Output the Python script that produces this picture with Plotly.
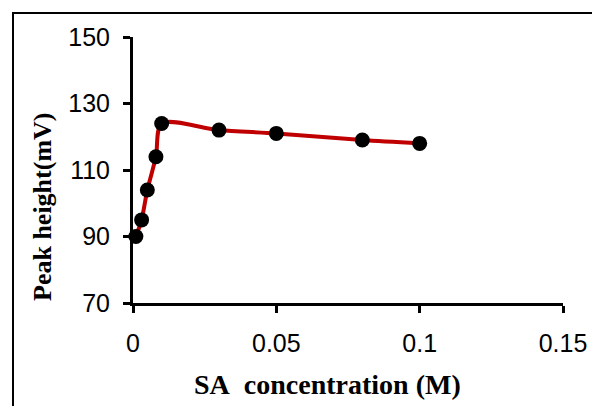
import plotly.graph_objects as go

conc = [0.001, 0.003, 0.005, 0.008, 0.01, 0.03, 0.05, 0.08, 0.1]
peak = [90, 95, 104, 114, 124, 122, 121, 119, 118]

x_ticks = [0, 0.05, 0.1, 0.15]
x_tick_labels = ["0", "0.05", "0.1", "0.15"]
y_ticks = [70, 90, 110, 130, 150]

x_title = "<b>SA\u00a0 concentration (M)</b>"
y_title = "<b>Peak height(mV)</b>"

fig = go.Figure()
fig.add_trace(go.Scatter(
    x=conc, y=peak, mode="lines",
    line=dict(color="#C00000", width=4, shape="spline", smoothing=0.8),
    showlegend=False, hoverinfo="skip", cliponaxis=False,
))
fig.add_trace(go.Scatter(
    x=conc, y=peak, mode="markers",
    marker=dict(color="black", size=15),
    showlegend=False, cliponaxis=False,
))

x_title_font = dict(family="Liberation Serif, Times New Roman", size=28, color="black")
y_title_font = dict(family="Liberation Serif, Times New Roman", size=26, color="black")

fig.update_layout(
    width=592, height=406,
    margin=dict(l=133, r=29, t=37, b=103, autoexpand=False),
    paper_bgcolor="white", plot_bgcolor="white",
    font=dict(family="Liberation Sans, Arial", size=25, color="black"),
    xaxis=dict(
        range=[0, 0.15], tickvals=x_ticks, ticktext=x_tick_labels,
        showline=True, linecolor="black", linewidth=3,
        ticks="outside", ticklen=7, tickwidth=3, tickcolor="black",
        showgrid=False, zeroline=False, ticklabelstandoff=9,
        automargin=False,
    ),
    yaxis=dict(
        range=[70, 150], tickvals=y_ticks,
        showline=True, linecolor="black", linewidth=3,
        ticks="outside", ticklen=7, tickwidth=3, tickcolor="black",
        showgrid=False, zeroline=False, ticklabelstandoff=8,
        automargin=False,
    ),
    annotations=[
        dict(text=x_title, xref="paper", yref="paper",
             x=(327 - 133) / 430, y=(303 - 384) / 266,
             xanchor="center", yanchor="middle", showarrow=False, font=x_title_font),
        dict(text=y_title, xref="paper", yref="paper",
             x=(42 - 133) / 430, y=(303 - 207) / 266, textangle=-90,
             xanchor="center", yanchor="middle", showarrow=False, font=y_title_font),
    ],
    shapes=[dict(type="rect", xref="paper", yref="paper",
                 x0=(13 - 133) / 430, x1=3, y0=-3, y1=(303 - 13) / 266,
                 line=dict(color="black", width=2), layer="below")],
)

fig.write_html("out.html")
